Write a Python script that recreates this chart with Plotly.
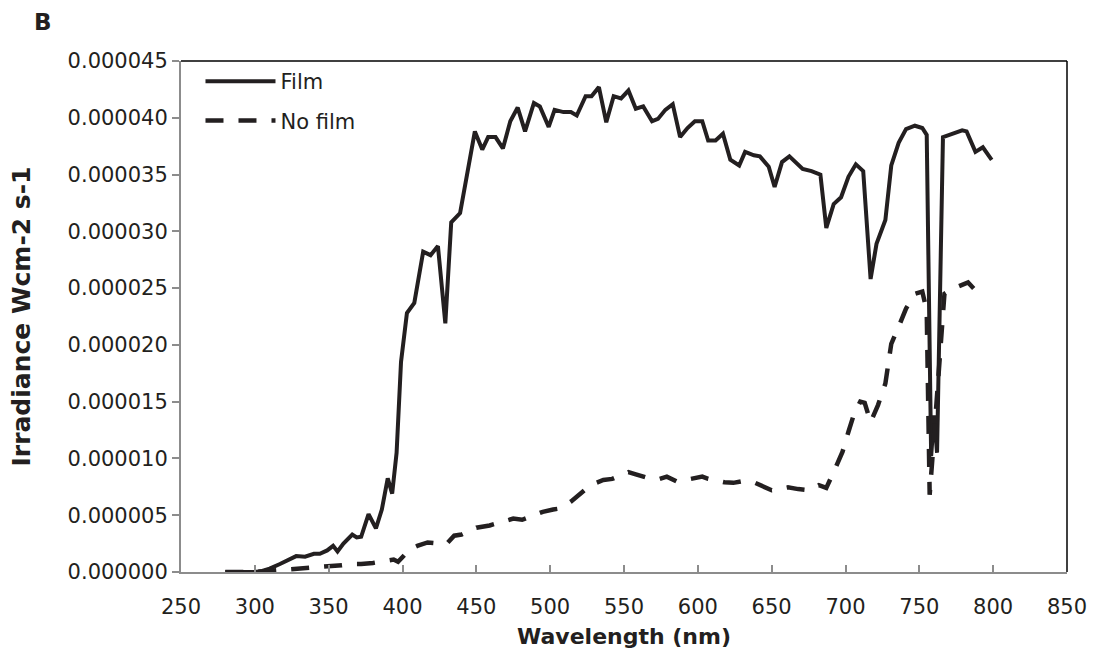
import plotly.graph_objects as go

# Film spectrum (wavelength nm, irradiance in W cm-2 s-1)
film_wl = [280, 285, 290, 295, 300, 305, 310, 317, 323, 328, 334, 340, 344, 349, 353, 356, 360,
           366, 369, 372, 377, 382, 386, 390, 393, 396, 399, 403, 408, 414, 419, 424, 429, 433,
           439, 449, 454, 458, 463, 468, 473, 478, 483, 489, 493, 499, 503, 509, 514, 518, 524,
           528, 533, 538, 543, 548, 553, 558, 563, 569, 573, 578, 583, 588, 593, 598, 603, 607,
           612, 617, 622, 628, 632, 638, 642, 648, 652, 657, 662, 667, 671, 677, 683, 687, 692,
           697, 702, 707, 712, 717, 721, 727, 731, 736, 741, 747, 752, 755, 758, 760, 762, 766,
           772, 779, 782, 788, 793, 799]
film_val = [0, 0, 0, 0, 0, 0.1, 0.3, 0.7, 1.05, 1.4, 1.35, 1.6, 1.6, 1.9, 2.3, 1.8, 2.5,
            3.3, 3.05, 3.1, 5.1, 3.85, 5.5, 8.25, 6.9, 10.5, 18.5, 22.8, 23.7, 28.2, 27.9, 28.7, 21.9, 30.8,
            31.6, 38.8, 37.2, 38.3, 38.3, 37.3, 39.7, 40.9, 38.8, 41.3, 41.0, 39.2, 40.7, 40.5, 40.5, 40.2, 41.9,
            41.9, 42.7, 39.6, 41.9, 41.7, 42.4, 40.8, 41.0, 39.7, 39.9, 40.7, 41.2, 38.3, 39.1, 39.7, 39.7, 38.0,
            38.0, 38.6, 36.3, 35.8, 37.0, 36.7, 36.6, 35.7, 33.9, 36.1, 36.6, 36.0, 35.5, 35.3, 35.0, 30.3, 32.4,
            33.0, 34.8, 35.9, 35.3, 25.8, 28.9, 31.0, 35.8, 37.8, 39.0, 39.3, 39.1, 38.5, 10.2, 13.8, 10.5, 38.3,
            38.6, 38.9, 38.8, 37.0, 37.4, 36.3]

# No film spectrum
nofilm_wl = [280, 290, 300, 310, 320, 332, 340, 346, 352, 359, 365, 372, 380, 385, 390, 394, 397,
             400, 405, 410, 417, 425, 430, 435, 440, 450, 459, 467, 475, 481, 488, 495, 502, 507,
             514, 520, 525, 530, 536, 542, 547, 553, 558, 562, 568, 573, 579, 586, 592, 598, 603,
             607, 612, 618, 624, 630, 637, 643, 650, 655, 661, 668, 676, 682, 687, 693, 698, 702,
             706, 710, 713, 717, 722, 727, 729, 731, 736, 741, 747, 752, 755, 757, 760, 763, 767,
             772, 778, 783, 788, 794]
nofilm_val = [0, 0, 0, 0.1, 0.2, 0.35, 0.4, 0.4, 0.5, 0.6, 0.7, 0.7, 0.8, 0.9, 1.0, 1.1, 0.9,
              1.3, 2.0, 2.3, 2.6, 2.5, 2.5, 3.2, 3.3, 3.9, 4.1, 4.4, 4.7, 4.6, 5.0, 5.3, 5.5, 5.6,
              6.2, 6.9, 7.4, 7.8, 8.1, 8.2, 8.5, 8.8, 8.6, 8.45, 8.2, 8.15, 8.4, 7.95, 8.1, 8.3, 8.4,
              8.2, 8.05, 7.9, 7.85, 8.0, 7.95, 7.6, 7.2, 7.3, 7.45, 7.3, 7.2, 7.65, 7.4, 9.1, 10.6, 12.35,
              14.0, 15.0, 14.9, 13.2, 14.7, 16.6, 18.2, 20.1, 21.6, 23.2, 24.5, 24.7, 23.0, 6.8, 12.0, 18.0, 24.5,
              24.9, 25.2, 25.5, 24.8, 24.6]

film_y = [v * 1e-6 for v in film_val]
nofilm_y = [v * 1e-6 for v in nofilm_val]

x_ticks = list(range(250, 851, 50))
y_ticks = [i * 5e-6 for i in range(10)]
y_ticklabels = ["%.6f" % v for v in y_ticks]

LINE = "#231f20"
AXIS = "#8c8c8c"

fig = go.Figure()
fig.add_trace(go.Scatter(x=film_wl, y=film_y, mode="lines", name="Film",
                         line=dict(color=LINE, width=4), legendgroup="a"))
fig.add_trace(go.Scatter(x=nofilm_wl, y=nofilm_y, mode="lines", name="No film",
                         line=dict(color=LINE, width=4.5, dash="18px,15px"), legendgroup="b"))

font_family = "DejaVu Sans, Open Sans, sans-serif"

fig.update_layout(
    width=1094, height=654,
    margin=dict(l=181, r=27, t=61, b=82),
    paper_bgcolor="white", plot_bgcolor="white",
    font=dict(family=font_family, size=21, color="#231f20"),
    showlegend=True,
    legend=dict(x=0.022, y=1.0, xanchor="left", yanchor="top",
                bgcolor="rgba(0,0,0,0)", itemwidth=70, tracegroupgap=9,
                font=dict(size=21), traceorder="grouped"),
    xaxis=dict(range=[250, 850], tickvals=x_ticks, ticktext=[str(v) for v in x_ticks],
               showgrid=False, zeroline=False, showline=True, linecolor=AXIS, linewidth=2,
               ticks="inside", ticklen=7, tickcolor=AXIS, tickwidth=1.5,
               ticklabelstandoff=15, automargin=False,
               title=dict(text="<b>Wavelength (nm)</b>", font=dict(size=22), standoff=10)),
    yaxis=dict(range=[0, 45e-6], tickvals=y_ticks, ticktext=y_ticklabels,
               showgrid=False, zeroline=False, showline=True, linecolor=AXIS, linewidth=2,
               ticks="outside", ticklen=7, tickcolor=AXIS, tickwidth=1.5, automargin=False,
               title=dict(text="<b>Irradiance Wcm-2 s-1</b>", font=dict(size=25), standoff=30)),
    shapes=[
        dict(type="line", xref="paper", yref="paper", x0=0, x1=1, y0=1, y1=1,
             line=dict(color="black", width=1.5)),
        dict(type="line", xref="paper", yref="paper", x0=1, x1=1, y0=0, y1=1,
             line=dict(color="black", width=1.5)),
    ],
    annotations=[
        dict(text="<b>B</b>", xref="paper", yref="paper", x=-181/886 + 32/886, y=1 + 39/511,
             xanchor="left", yanchor="middle", showarrow=False, font=dict(size=23)),
    ],
)

fig.write_html("out.html")
